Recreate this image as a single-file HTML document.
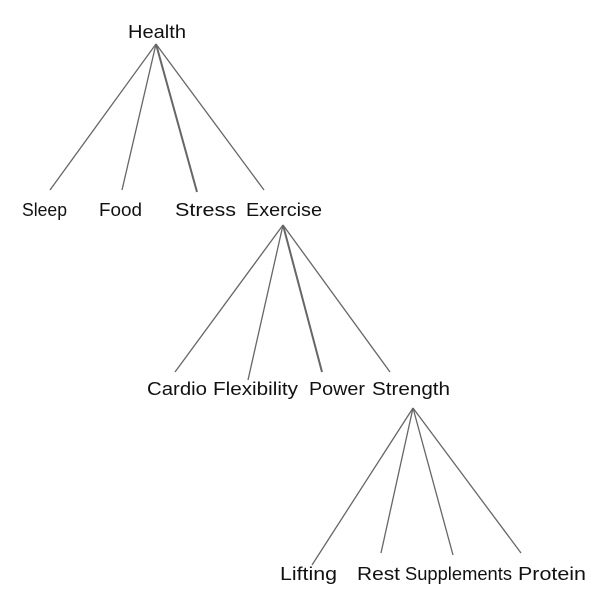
<!DOCTYPE html>
<html><head><style>
html,body{margin:0;padding:0;background:#fff;}
svg{display:block}
text{font-family:"Liberation Sans",sans-serif;font-size:18px;fill:#111;}
line{stroke:#666;stroke-width:1.3;}
</style></head><body>
<svg width="600" height="602" viewBox="0 0 600 602">
<text x="128" y="38" textLength="58" lengthAdjust="spacingAndGlyphs">Health</text>
<line x1="156" y1="44" x2="50" y2="190"/>
<line x1="156" y1="44" x2="122" y2="190"/>
<line x1="156" y1="44" x2="197" y2="192" style="stroke-width:2"/>
<line x1="156" y1="44" x2="264" y2="190"/>
<text x="22" y="216" textLength="45" lengthAdjust="spacingAndGlyphs">Sleep</text>
<text x="99" y="216" textLength="43" lengthAdjust="spacingAndGlyphs">Food</text>
<text x="175" y="216" textLength="61" lengthAdjust="spacingAndGlyphs">Stress</text>
<text x="246" y="216" textLength="76" lengthAdjust="spacingAndGlyphs">Exercise</text>
<line x1="283" y1="225" x2="175" y2="372"/>
<line x1="283" y1="225" x2="248" y2="380"/>
<line x1="283" y1="225" x2="322" y2="372" style="stroke-width:2"/>
<line x1="283" y1="225" x2="390" y2="372"/>
<text x="147" y="395" textLength="60" lengthAdjust="spacingAndGlyphs">Cardio</text>
<text x="213" y="395" textLength="85" lengthAdjust="spacingAndGlyphs">Flexibility</text>
<text x="309" y="395" textLength="56" lengthAdjust="spacingAndGlyphs">Power</text>
<text x="372" y="395" textLength="78" lengthAdjust="spacingAndGlyphs">Strength</text>
<line x1="413" y1="408" x2="312" y2="565"/>
<line x1="413" y1="408" x2="381" y2="553"/>
<line x1="413" y1="408" x2="453" y2="555"/>
<line x1="413" y1="408" x2="521" y2="553"/>
<text x="280" y="580" textLength="57" lengthAdjust="spacingAndGlyphs">Lifting</text>
<text x="357" y="580" textLength="43" lengthAdjust="spacingAndGlyphs">Rest</text>
<text x="405" y="580" textLength="107" lengthAdjust="spacingAndGlyphs">Supplements</text>
<text x="518" y="580" textLength="68" lengthAdjust="spacingAndGlyphs">Protein</text>
</svg>
</body></html>
